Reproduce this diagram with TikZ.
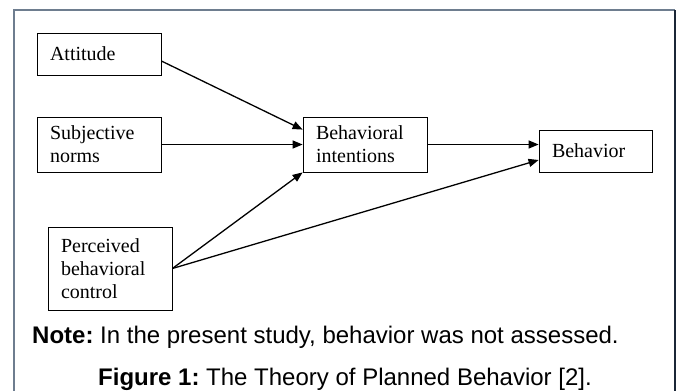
\documentclass[tikz,border=0pt]{standalone}
\usepackage{fontspec}
\setmainfont{Liberation Serif}
\newfontfamily\capfont{Liberation Sans}
\usepackage{tikz}
\usetikzlibrary{positioning,calc,arrows.meta}
\definecolor{framegray}{HTML}{6E7D8F}
\definecolor{framedark}{HTML}{1B2636}
\frenchspacing

\begin{document}
\begin{tikzpicture}[x=1pt,y=-1pt,
    box/.style={draw, line width=0.8pt, inner sep=0pt, align=left, font=\fontsize{20}{23}\selectfont},
    link/.style={line width=1.3pt, -{Triangle[length=10pt,width=8pt]}},
    caption/.style={inner sep=0pt, font=\capfont\fontsize{24}{28}\selectfont}]
    \useasboundingbox (0,0) rectangle (678,391);
    \clip (0,0) rectangle (678,391);

    % Frame
    \draw[framegray, line width=2pt] (14,400) -- (14,10) -- (675,10);
    \draw[framedark, line width=2pt] (675,10) -- (675,400);

    % Predictors
    \node[box, minimum width=124pt, minimum height=42pt, text width=98pt] (att) at (99,54) {Attitude};
    \node[box, minimum width=124pt, minimum height=55pt, text width=98pt] (norms) at (99,144.5) {Subjective\\norms};
    \node[box, minimum width=124pt, minimum height=83pt, text width=98pt] (pbc) at (110,268.5) {Perceived\\behavioral\\control};

    % Intention and behavior
    \node[box, minimum width=124pt, minimum height=55pt, text width=98pt] (intent) at (365,144.5) {Behavioral\\intentions};
    \node[box, minimum width=113pt, minimum height=42pt, text width=87pt] (behav) at (595.5,151) {Behavior};

    % Links
    \draw[link] ([yshift=-7pt]att.east) -- ([yshift=-13pt]intent.north west);
    \draw[link] (norms.east) -- (intent.west);
    \draw[link] (pbc.east) -- (intent.south west);
    \draw[link] (pbc.east) -- ([yshift=-9pt]behav.west);
    \draw[link] (intent.east) -- (intent.east -| behav.west);

    % Caption
    \node[caption, anchor=base west] (note) at (32,343) {\textbf{Note:} In the present study, behavior was not assessed.};
    \node[caption, anchor=base] (fig) at (345,385) {\textbf{Figure 1:} The Theory of Planned Behavior [2].};
\end{tikzpicture}
\end{document}
